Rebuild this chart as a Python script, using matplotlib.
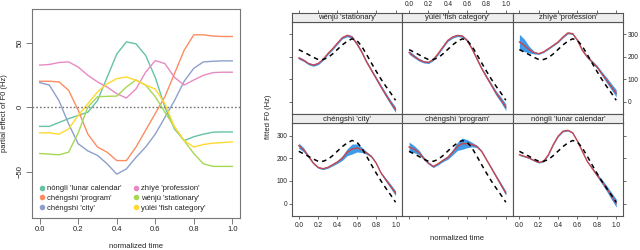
import numpy as np
import matplotlib
matplotlib.use("Agg")
import matplotlib.pyplot as plt
from matplotlib.lines import Line2D

plt.rcParams['font.family'] = ['Liberation Sans', 'DejaVu Sans']

t = [0.0, 0.05, 0.1, 0.15, 0.2, 0.25, 0.3, 0.35, 0.4, 0.45, 0.5,
     0.55, 0.6, 0.65, 0.7, 0.75, 0.8, 0.85, 0.9, 0.95, 1.0]

# left panel: partial effects (Hz)
words = ["nónglì 'lunar calendar'", "chéngshì 'program'", "chéngshì 'city'",
         "zhíyè 'profession'", "wénjù 'stationary'", "yúlèi 'fish category'"]
colors = ['#66C2A5', '#FC8D62', '#8DA0CB', '#E78AC3', '#A6D854', '#FFD92F']
eff_nongli = [-15, -15, -12, -9, -6.5, -4, 5, 23, 41, 50.5, 49, 40, 23, 0, -17, -26, -23, -21, -19.5, -19.3, -19.3]
eff_program = [20, 20, 19.5, 13, -2.5, -21, -31, -35, -41.5, -41.5, -31, -18, -5, 8, 26, 44, 56, 56, 55, 54.7, 54.7]
eff_city = [19, 17, 5, -13, -28.5, -34, -37.5, -44, -52, -48, -39, -31, -21, -8, 5, 20, 30, 35, 35.5, 35.8, 35.8]
eff_zhiye = [32.5, 33, 34.5, 35, 31, 24.6, 19.5, 15.5, 10.4, 7, 14, 27, 36, 33.7, 23, 17, 21, 24.6, 26.7, 27, 27]
eff_wenju = [-36, -36.5, -37, -35, -20, 0, 8, 8.3, 8.5, 15.5, 21, 17, 8, -4, -15.5, -26, -36, -44, -46, -46, -46]
eff_yulei = [-20, -20, -21, -17, -6.5, 2.6, 11.7, 18, 22, 23.3, 20.7, 17, 14, 2.6, -15.5, -26, -31, -29, -28, -27.5, -27]
effects = [eff_nongli, eff_program, eff_city, eff_zhiye, eff_wenju, eff_yulei]

# right panels: fitted F0 (Hz)
avg_f0 = [231, 220, 209, 197, 187, 187, 195, 212, 232, 252, 268, 279, 272, 246, 210, 172, 135, 100, 68, 38, 6]
panel_names = ["wénjù 'stationary'", "yúlèi 'fish category'", "zhíyè 'profession'",
               "chéngshì 'city'", "chéngshì 'program'", "nónglì 'lunar calendar'"]
fit_wenju = [194, 184, 169, 162, 169, 187, 213, 235, 260, 284, 294, 287, 257, 221, 177, 140, 103, 66, 30, -4, -36]
fit_yulei = [218, 202, 187, 177, 174, 187, 213, 243, 272, 287, 294, 291, 272, 235, 191, 147, 110, 74, 37, 8, -25]
fit_zhiye = [265, 250, 231, 218, 213, 221, 235, 250, 265, 287, 305, 302, 272, 228, 199, 177, 155, 125, 96, 66, 37]
fit_city = [256, 238, 209, 179, 160, 154, 160, 172, 184, 201, 227, 241, 246, 238, 224, 209, 179, 135, 105, 76, 46]
fit_program = [250, 241, 227, 201, 179, 164, 176, 191, 204, 227, 253, 265, 265, 261, 253, 231, 194, 157, 120, 83, 46]
fit_nongli = [216, 209, 202, 191, 182, 187, 216, 261, 298, 320, 324, 313, 276, 231, 187, 157, 127, 98, 68, 34, 2]
ci_wenju = [6, 5, 5, 5, 5, 5, 5, 5, 5, 5, 6, 6, 6, 6, 6, 6, 7, 8, 9, 10, 12]
ci_yulei = [8, 7, 6, 5, 5, 5, 5, 5, 5, 5, 5, 5, 5, 5, 5, 6, 7, 8, 10, 12, 15]
ci_zhiye = [34, 28, 15, 6, 3, 3, 3, 3, 3, 4, 4, 4, 4, 5, 5, 6, 7, 9, 12, 14, 16]
ci_city = [12, 9, 6, 4, 4, 4, 4, 5, 6, 10, 15, 22, 18, 12, 6, 4, 3, 4, 7, 9, 11]
ci_program = [22, 16, 10, 7, 5, 5, 5, 6, 8, 12, 18, 25, 18, 10, 5, 4, 4, 5, 6, 8, 10]
ci_nongli = [3, 3, 3, 3, 3, 3, 3, 3, 3, 3, 3, 3, 3, 3, 3, 5, 7, 10, 13, 15, 18]
fits = [fit_wenju, fit_yulei, fit_zhiye, fit_city, fit_program, fit_nongli]
cis = [ci_wenju, ci_yulei, ci_zhiye, ci_city, ci_program, ci_nongli]

W, H = 640, 250
fig = plt.figure(figsize=(6.4, 2.5), dpi=100)

def rect(x0, y0, x1, y1):
    # pixel box (top-left origin) -> figure fraction
    return [x0 / W, 1 - y1 / H, (x1 - x0) / W, (y1 - y0) / H]

txt = '#222222'
xt = [0, 0.2, 0.4, 0.6, 0.8, 1.0]
xtl = ['0.0', '0.2', '0.4', '0.6', '0.8', '1.0']

# ---- left panel
ax = fig.add_axes(rect(32, 9, 240, 218))
for vals, c in zip(effects, colors):
    ax.plot(t, vals, color=c, lw=1.0)
ax.axhline(0, color='#777777', ls=(0, (1.2, 1.5)), lw=1.0)
ax.set_xlim(-0.04, 1.04)
ax.set_ylim(-86, 76)
ax.set_xticks(xt)
ax.set_xticklabels(xtl)
ax.set_yticks([-50, 0, 50])
ax.set_yticklabels(['−50', '0', '50'], rotation=90, va='center')
ax.tick_params(labelsize=5.5, length=4, width=0.6, color='#666666', pad=2, labelcolor=txt)
for s in ax.spines.values():
    s.set_color('#777777')
    s.set_linewidth(0.8)
ax.set_xlabel('normalized time', fontsize=5.5, color=txt, labelpad=7)
ax.set_ylabel('partial effect of F0 (Hz)', fontsize=5.5, color=txt, labelpad=6)
handles = [Line2D([], [], marker='o', ls='', color=c, markersize=3) for c in colors]
ax.legend(handles, words, ncol=2, loc='lower left', bbox_to_anchor=(0.0, 0.005),
          frameon=False, fontsize=5.5, handletextpad=0.05, columnspacing=1.3,
          labelspacing=0.3, handlelength=1.2, borderaxespad=0.3, labelcolor=txt)

# ---- right lattice panels
col_x = [292, 402.3, 512.6, 623]
rows = [(13.3, 21.7, 114), (114, 123.3, 216)]
frame = '#555555'
for i, (name, fit, ci) in enumerate(zip(panel_names, fits, cis)):
    r, c = divmod(i, 3)
    st, pt, pb = rows[r]
    x0, x1 = col_x[c], col_x[c + 1]
    pa = fig.add_axes(rect(x0, pt, x1, pb))
    fit = np.array(fit, dtype=float)
    ci = np.array(ci, dtype=float)
    pa.fill_between(t, fit - ci, fit + ci, color='#3f9ae8', lw=0)
    pa.plot(t, fit, color='#c8454d', lw=1.0)
    pa.plot(t, avg_f0, color='black', ls=(0, (3, 2.6)), lw=1.1)
    pa.set_xlim(-0.07, 1.07)
    pa.set_ylim(-55, 355)
    pa.set_xticks(xt)
    pa.set_xticklabels(xtl)
    pa.set_yticks([0, 100, 200, 300])
    pa.tick_params(labelsize=4.7, length=2.5, width=0.6, color='#555555', pad=1.5, labelcolor=txt)
    pa.tick_params(axis='x', bottom=(r == 1), labelbottom=(r == 1 and c != 1), top=False, labeltop=False)
    pa.tick_params(axis='y', left=(c == 0), labelleft=(c == 0 and r == 1),
                   right=(c == 2), labelright=(c == 2 and r == 0), pad=1)
    for s in pa.spines.values():
        s.set_color(frame)
        s.set_linewidth(0.8)
    sa = fig.add_axes(rect(x0, st, x1, pt))
    sa.set_facecolor('#eeeeee')
    sa.set_xlim(-0.07, 1.07)
    sa.set_ylim(0, 1)
    sa.set_yticks([])
    sa.set_xticks(xt)
    sa.set_xticklabels(xtl)
    sa.tick_params(labelsize=4.7, length=2.5, width=0.6, color='#555555', pad=1.5, labelcolor=txt)
    sa.tick_params(axis='x', bottom=False, labelbottom=False, top=(r == 0), labeltop=(r == 0 and c == 1))
    for s in sa.spines.values():
        s.set_color(frame)
        s.set_linewidth(0.8)
    sa.text(0.5, 0.45, name, transform=sa.transAxes, ha='center', va='center',
            fontsize=5.5, color=txt)

fig.text(269 / W, 1 - 117 / H, 'fitted F0 (Hz)', rotation=90, ha='center', va='center',
         fontsize=5.5, color=txt)
fig.text(457 / W, 1 - 238 / H, 'normalized time', ha='center', va='center',
         fontsize=5.5, color=txt)

fig.savefig('out.png', dpi=100)
